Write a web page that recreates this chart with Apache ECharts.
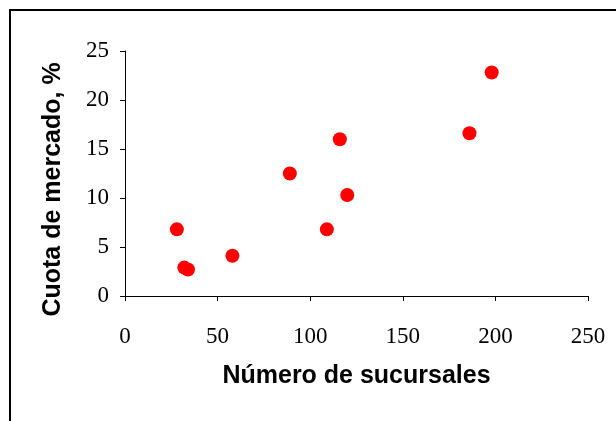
<!DOCTYPE html>
<html>
<head>
<meta charset="utf-8">
<script src="https://cdn.jsdelivr.net/npm/echarts@6/dist/echarts.min.js"></script>
<style>
	html, body { margin: 0; padding: 0; background: #fff; }
	#main_chart { width: 616px; height: 421px; }
</style>
</head>
<body>
<div id="main_chart"></div>
<script>
// sucursales (x) y cuota de mercado % (y)
var sucursales = [28, 32, 34, 58, 89, 109, 116, 120, 186, 198];
var cuota = [6.8, 2.9, 2.7, 4.1, 12.5, 6.8, 16.0, 10.3, 16.6, 22.8];
var xTicks = [0, 50, 100, 150, 200, 250];
var yTicks = [0, 5, 10, 15, 20, 25];

makeChart();

function makeAxis(name, ticks, nameGap, labelMargin, namePad) {
	return {
		type: 'value',
		min: ticks[0],
		max: ticks[ticks.length - 1],
		interval: ticks[1] - ticks[0],
		name: name,
		nameLocation: 'middle',
		nameGap: nameGap,
		nameTextStyle: { color: '#000', fontFamily: 'Liberation Sans', fontWeight: 'bold', fontSize: 25, padding: namePad },
		axisLine: { show: true, lineStyle: { color: '#000', width: 1 } },
		axisTick: { show: true, inside: false, length: 5, lineStyle: { color: '#000' } },
		splitLine: { show: false },
		axisLabel: { color: '#000', fontFamily: 'Liberation Serif', fontSize: 23, margin: labelMargin }
	};
}

function makeChart() {
	var chart_do = document.getElementById('main_chart');
	var myChart = echarts.init(chart_do);

	var points = [];
	for (var i = 0; i < sucursales.length; i++) {
		points.push([sucursales[i], cuota[i]]);
	}

	var option = {
		animation: false,
		backgroundColor: '#fff',
		graphic: [{
			type: 'rect',
			shape: { x: 10, y: 10, width: 700, height: 500 },
			style: { fill: 'none', stroke: '#000', lineWidth: 2 }
		}],
		grid: { left: 125, right: 28, top: 51, bottom: 125 },
		xAxis: makeAxis('Número de sucursales', xTicks, 68, 29, [0, 0, 0, 0]),
		yAxis: makeAxis('Cuota de mercado, %', yTicks, 59, 16, [0, 32, 0, 0]),
		series: [{
			type: 'scatter',
			symbol: 'circle',
			symbolSize: 14,
			itemStyle: { color: '#ff0000', opacity: 1 },
			data: points
		}]
	};

	myChart.setOption(option);
}
</script>
</body>
</html>
